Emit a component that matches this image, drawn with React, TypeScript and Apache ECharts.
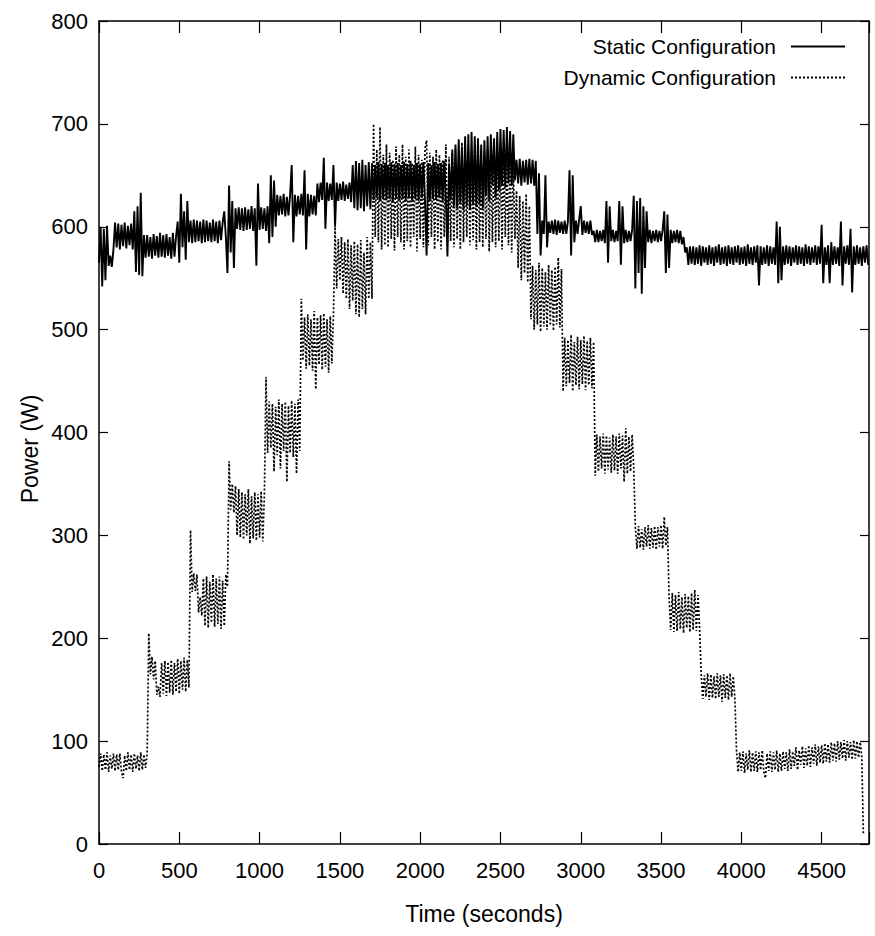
import React, { useEffect, useRef } from "react";
import * as echarts from "echarts";

// Sampling interval of the recorded traces (seconds)
const SAMPLE_STEP = 10;

// Static configuration power (W), one value every 10 s, split in 1000 s blocks
const staticA = [
  565, 600, 542, 598, 548, 601, 562, 572, 561, 578,
  604, 580, 603, 578, 602, 581, 604, 579, 601, 582,
  603, 578, 615, 556, 620, 553, 633, 552, 592, 570,
  592, 571, 590, 569, 593, 572, 591, 570, 594, 571,
  592, 570, 593, 572, 590, 569, 594, 571, 591, 605,
  565, 632, 580, 615, 568, 625, 585, 606, 584, 607,
  585, 606, 586, 605, 584, 607, 585, 606, 586, 604,
  585, 607, 586, 605, 584, 606, 587, 604, 615, 590,
  555, 640, 575, 625, 560, 618, 598, 619, 597, 618,
  596, 619, 597, 617, 598, 620, 596, 618, 562, 642,
];
const staticB = [
  597, 619, 598, 618, 596, 620, 584, 650, 590, 645,
  600, 631, 611, 630, 612, 632, 610, 629, 611, 631,
  660, 585, 631, 610, 630, 612, 632, 611, 655, 578,
  632, 610, 631, 612, 630, 611, 642, 624, 643, 626,
  667, 598, 643, 625, 642, 626, 660, 600, 643, 625,
  642, 626, 644, 625, 641, 627, 643, 624, 660, 618,
  664, 616, 662, 618, 665, 615, 660, 620, 663, 617,
  662, 626, 660, 628, 663, 625, 661, 627, 662, 626,
  660, 627, 663, 625, 661, 628, 662, 626, 660, 627,
  663, 625, 661, 628, 664, 626, 660, 627, 662, 625,
];
const staticC = [
  661, 628, 663, 626, 572, 662, 625, 660, 627, 663,
  626, 661, 628, 662, 625, 664, 627, 571, 661, 626,
  675, 620, 680, 618, 685, 622, 678, 616, 688, 620,
  690, 617, 692, 621, 688, 619, 686, 622, 680, 618,
  684, 630, 688, 625, 690, 640, 686, 628, 692, 635,
  695, 640, 694, 638, 697, 642, 693, 640, 690, 645,
  665, 642, 666, 640, 664, 643, 665, 641, 666, 642,
  665, 640, 664, 593, 652, 572, 606, 593, 650, 580,
  605, 594, 606, 593, 607, 592, 606, 594, 605, 593,
  606, 593, 605, 655, 572, 650, 585, 606, 593, 607,
];
const staticD = [
  620, 592, 606, 594, 605, 593, 606, 592, 596, 585,
  597, 585, 596, 586, 597, 584, 625, 565, 620, 586,
  597, 585, 596, 586, 625, 563, 620, 584, 597, 585,
  596, 586, 597, 630, 540, 625, 555, 628, 535, 620,
  560, 615, 585, 597, 584, 596, 586, 597, 585, 596,
  586, 597, 615, 555, 612, 560, 597, 584, 596, 585,
  597, 584, 596, 583, 590, 575, 580, 563, 581, 564,
  581, 563, 580, 564, 582, 562, 581, 565, 580, 563,
  582, 564, 580, 562, 581, 565, 583, 563, 580, 564,
  581, 562, 582, 564, 580, 563, 581, 565, 582, 563,
];
const staticE = [
  580, 564, 581, 562, 583, 564, 580, 563, 581, 565,
  582, 543, 581, 563, 580, 564, 582, 562, 581, 564,
  580, 563, 605, 545, 600, 548, 581, 563, 582, 564,
  581, 562, 580, 565, 582, 563, 581, 564, 580, 562,
  583, 564, 581, 563, 580, 565, 582, 563, 581, 564,
  602, 545, 580, 563, 582, 545, 585, 563, 581, 564,
  580, 562, 605, 543, 581, 564, 582, 563, 598, 536,
  581, 563, 582, 564, 580, 562, 581, 565, 582, 563,
];

// Dynamic configuration power (W), one value every 10 s
const dynamicA = [
  75, 88, 71, 87, 72, 89, 70, 86, 73, 88,
  71, 87, 72, 88, 70, 64, 86, 71, 89, 72,
  87, 70, 88, 73, 86, 71, 89, 72, 87, 74,
  88, 205, 165, 182, 160, 178, 145, 153, 143, 176,
  146, 178, 144, 177, 147, 179, 145, 176, 148, 180,
  146, 178, 150, 181, 148, 179, 152, 305, 245, 263,
  246, 262, 225, 240, 222, 258, 212, 260, 210, 255,
  215, 262, 211, 258, 214, 260, 209, 256, 212, 262,
  250, 372, 325, 350, 322, 348, 300, 345, 298, 342,
  296, 340, 300, 345, 292, 338, 297, 342, 295, 340,
];
const dynamicB = [
  298, 343, 294, 340, 454, 380, 430, 385, 428, 362,
  425, 378, 432, 365, 428, 382, 430, 352, 426, 380,
  431, 376, 428, 360, 432, 382, 530, 470, 512, 462,
  515, 465, 510, 460, 518, 442, 512, 466, 514, 461,
  516, 464, 510, 458, 513, 467, 515, 600, 540, 588,
  548, 590, 535, 585, 530, 588, 520, 582, 528, 586,
  515, 583, 512, 587, 520, 575, 515, 590, 530, 585,
  530, 700, 590, 675, 585, 697, 578, 670, 582, 680,
  580, 672, 588, 665, 577, 678, 590, 670, 585, 680,
  578, 668, 586, 675, 580, 662, 590, 678, 576, 670,
];
const dynamicC = [
  588, 665, 580, 676, 684, 582, 672, 590, 668, 578,
  675, 585, 670, 578, 665, 590, 680, 582, 668, 586,
  672, 580, 676, 588, 665, 578, 682, 585, 670, 590,
  676, 582, 668, 587, 680, 578, 672, 585, 664, 580,
  670, 588, 675, 576, 668, 585, 680, 580, 672, 586,
  668, 578, 674, 590, 665, 582, 670, 575, 660, 588,
  635, 560, 630, 548, 625, 555, 632, 546, 620, 510,
  562, 500, 558, 505, 565, 498, 560, 503, 556, 500,
  563, 504, 558, 499, 561, 505, 570, 502, 559, 440,
  492, 445, 490, 448, 495, 440, 488, 446, 493, 442,
];
const dynamicD = [
  490, 447, 494, 441, 489, 446, 492, 443, 488, 358,
  398, 362, 396, 365, 399, 360, 397, 364, 395, 361,
  398, 363, 396, 360, 399, 365, 397, 352, 404, 360,
  396, 362, 398, 365, 308, 287, 309, 288, 306, 286,
  308, 289, 310, 287, 307, 288, 309, 286, 308, 289,
  310, 287, 318, 290, 308, 240, 208, 244, 206, 242,
  207, 245, 209, 240, 205, 243, 210, 241, 206, 244,
  208, 247, 207, 242, 210, 165, 141, 164, 143, 166,
  140, 165, 142, 163, 141, 166, 143, 164, 138, 165,
  142, 164, 140, 166, 143, 163, 141, 90, 70, 89,
];
const dynamicE = [
  71, 90, 69, 88, 72, 91, 70, 89, 71, 90,
  70, 89, 72, 91, 70, 64, 88, 71, 90, 70,
  89, 72, 91, 70, 88, 71, 90, 73, 89, 71,
  92, 73, 90, 76, 94, 72, 91, 77, 95, 74,
  93, 76, 96, 75, 94, 78, 97, 76, 95, 79,
  96, 78, 98, 80, 97, 79, 99, 81, 98, 80,
  100, 82, 99, 83, 101, 81, 100, 84, 99, 82,
  101, 83, 100, 84, 99, 85, 10,
];

const xTickValues = [0, 500, 1000, 1500, 2000, 2500, 3000, 3500, 4000, 4500];
const X_MAX = 4795;

const staticPower = [...staticA, ...staticB, ...staticC, ...staticD, ...staticE];
const dynamicPower = [...dynamicA, ...dynamicB, ...dynamicC, ...dynamicD, ...dynamicE];

const toPairs = (vals: number[]) => vals.map((v, i) => [i * SAMPLE_STEP, v]);

const FONT = "'Liberation Sans', Arial, Helvetica, sans-serif";

export default function App() {
  const ref = useRef<HTMLDivElement>(null);

  useEffect(() => {
    if (!ref.current) return;
    const chart = echarts.init(ref.current, undefined, { renderer: "svg" });
    const frame = { show: true, onZero: false, lineStyle: { color: "#000", width: 1.5 } };
    const xTick = { inside: true, length: 12, lineStyle: { color: "#000", width: 1.2 } };
    const yTick = { inside: true, length: 9, lineStyle: { color: "#000", width: 1.2 } };
    chart.setOption({
      animation: false,
      backgroundColor: "#fff",
      grid: { left: 99, right: 6, top: 21, bottom: 92, containLabel: false },
      legend: {
        right: 29,
        top: 36,
        padding: 0,
        orient: "vertical",
        align: "right",
        itemWidth: 54,
        itemHeight: 14,
        itemGap: 10,
        itemStyle: { opacity: 0, borderWidth: 0 },
        textStyle: {
          fontFamily: FONT,
          fontSize: 21,
          color: "#000",
          padding: [0, 10, 0, 0],
        },
        data: ["Static Configuration", "Dynamic Configuration"],
      },
      xAxis: [
        {
          type: "value",
          min: 0,
          max: X_MAX,
          interval: 500,
          name: "Time (seconds)",
          nameLocation: "middle",
          nameGap: 58,
          nameTextStyle: { fontFamily: FONT, fontSize: 23, color: "#000" },
          axisLine: frame,
          axisTick: xTick,
          axisLabel: {
            fontFamily: FONT,
            fontSize: 22,
            color: "#000",
            margin: 15,
            formatter: (v: number) => (xTickValues.includes(v) ? String(v) : ""),
          },
          splitLine: { show: false },
        },
        {
          type: "value",
          position: "top",
          min: 0,
          max: X_MAX,
          interval: 500,
          axisLine: frame,
          axisTick: xTick,
          axisLabel: { show: false },
          splitLine: { show: false },
        },
      ],
      yAxis: [
        {
          type: "value",
          min: 0,
          max: 800,
          interval: 100,
          axisLine: frame,
          axisTick: yTick,
          axisLabel: { fontFamily: FONT, fontSize: 22, color: "#000", margin: 11 },
          splitLine: { show: false },
        },
        {
          type: "value",
          position: "right",
          min: 0,
          max: 800,
          interval: 100,
          axisLine: frame,
          axisTick: yTick,
          axisLabel: { show: false },
          splitLine: { show: false },
        },
      ],
      graphic: [
        {
          type: "text",
          x: 30,
          y: 449,
          rotation: Math.PI / 2,
          style: {
            text: "Power (W)",
            fontFamily: FONT,
            fontSize: 23,
            fill: "#000",
            align: "center",
            verticalAlign: "middle",
          },
        },
      ],
      series: [
        {
          name: "Static Configuration",
          type: "line",
          xAxisIndex: 0,
          yAxisIndex: 0,
          data: toPairs(staticPower),
          symbol: "none",
          showSymbol: false,
          lineStyle: { color: "#000", width: 1.9, type: "solid" },
          itemStyle: { color: "#000" },
          z: 3,
        },
        {
          name: "Dynamic Configuration",
          type: "line",
          xAxisIndex: 0,
          yAxisIndex: 0,
          data: toPairs(dynamicPower),
          symbol: "none",
          showSymbol: false,
          lineStyle: { color: "#000", width: 1.7, type: [2, 2] },
          itemStyle: { color: "#000" },
          z: 2,
        },
      ],
    });
    return () => chart.dispose();
  }, []);

  return (
    <div
      ref={ref}
      style={{ position: "fixed", left: 0, top: 0, width: 875, height: 936, background: "#fff" }}
    />
  );
}
